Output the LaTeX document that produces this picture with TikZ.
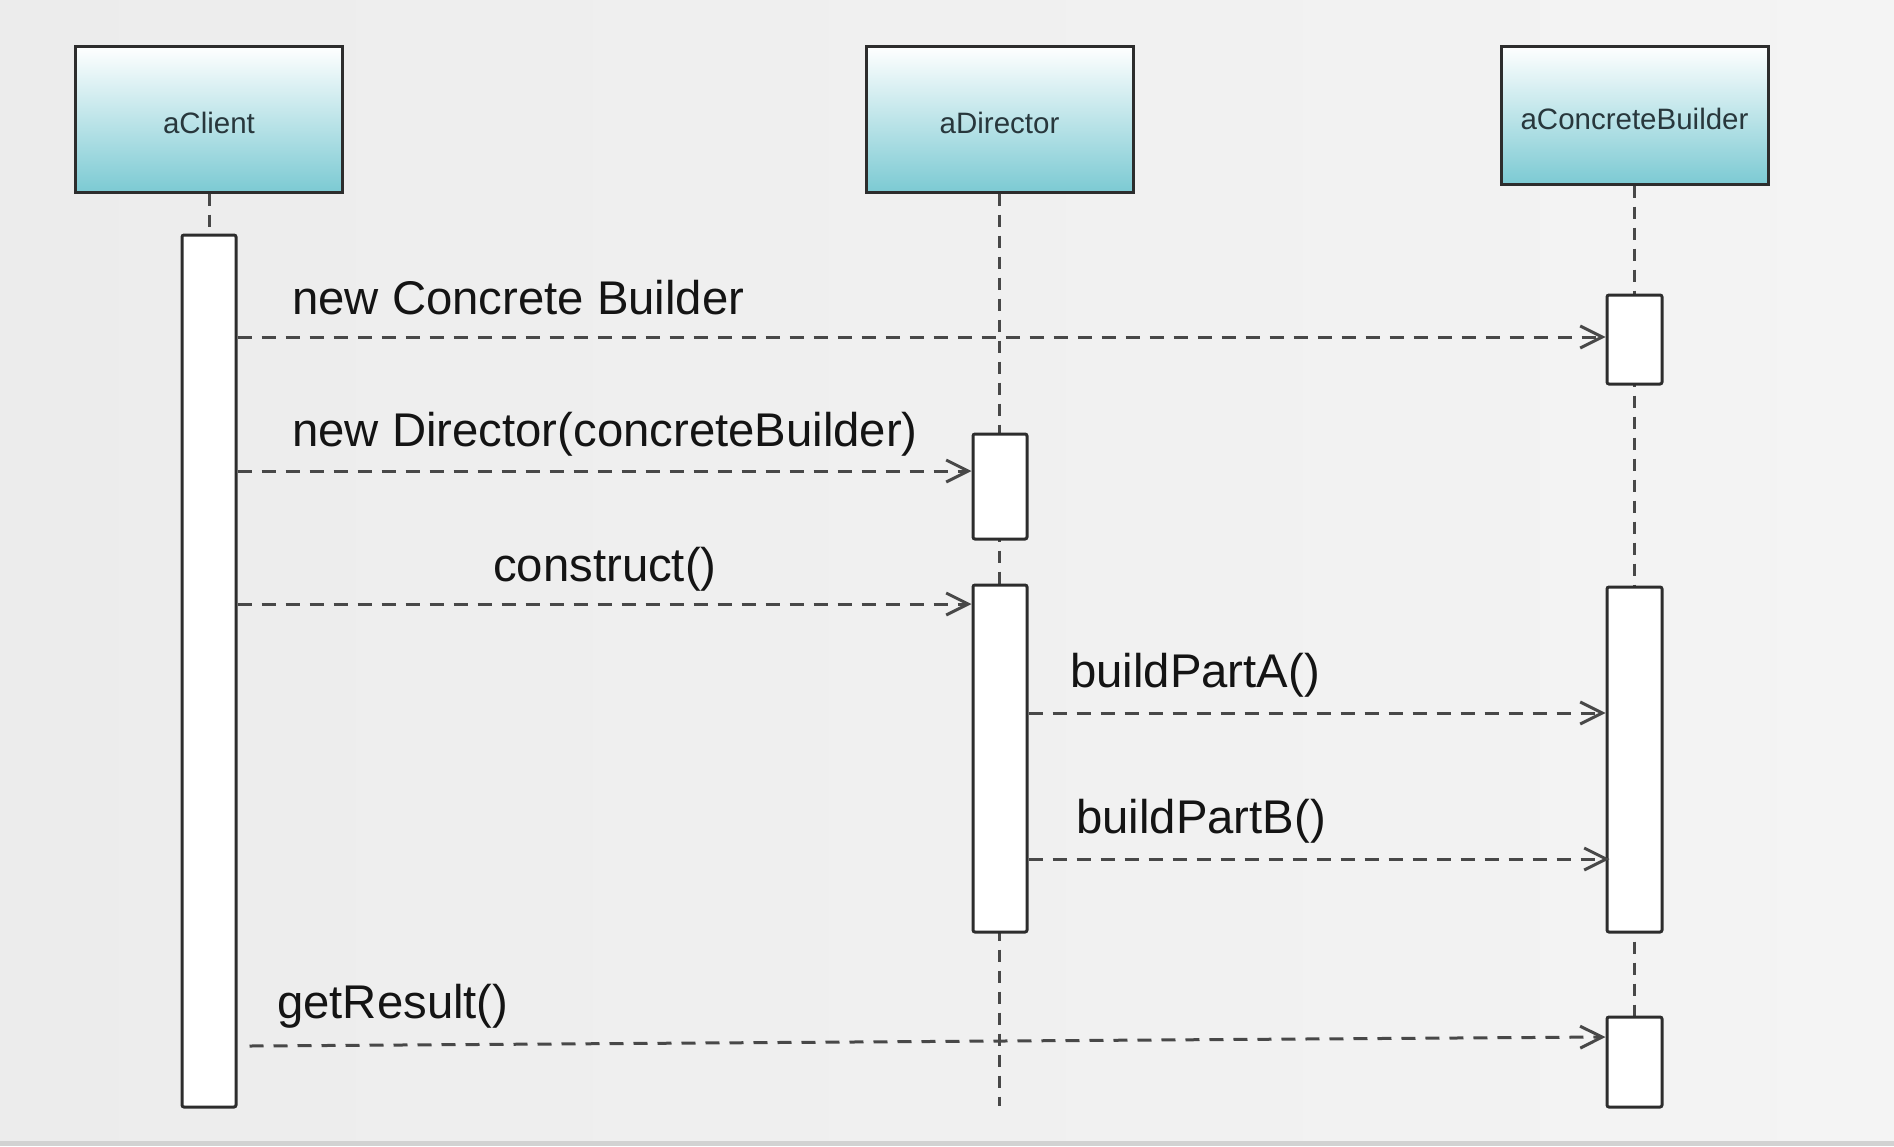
\documentclass[tikz,border=0pt]{standalone}
\usepackage{fontspec}
\setmainfont{Liberation Sans}
\usetikzlibrary{arrows.meta}
\definecolor{bgL}{RGB}{236,236,236}
\definecolor{bgM}{RGB}{252,252,252}
\definecolor{bgR}{RGB}{244,244,244}
\definecolor{teal1}{RGB}{124,202,211}
\definecolor{edge}{RGB}{45,45,45}
\definecolor{dashc}{RGB}{72,72,72}
\definecolor{txt}{RGB}{20,20,20}
\definecolor{htxt}{RGB}{40,55,60}
\newcommand{\hlabel}[1]{\raisebox{-14pt}[0pt][0pt]{#1}}
\tikzset{
  head/.style={draw=edge, line width=3pt, top color=white, bottom color=teal1,
    minimum width=267pt, inner sep=0pt, text=htxt,
    font=\fontsize{29.5}{35}\selectfont},
  actbox/.style={draw=edge, line width=3pt, fill=white, rounded corners=2pt,
    minimum width=54pt, inner sep=0pt},
  life/.style={draw=dashc, line width=3pt, dash pattern=on 12pt off 9pt},
  msg/.style={draw=dashc, line width=3pt, dash pattern=on 14pt off 10pt,
    -{Straight Barb[length=22pt,width=22pt,line width=3pt]}},
  lbl/.style={anchor=base west, inner sep=0pt, text=txt,
    font=\fontsize{47.3}{56}\selectfont}
}
\begin{document}
\begin{tikzpicture}[x=1pt,y=-1pt]
\useasboundingbox (0,0) rectangle (1894,1146);
\shade[left color=bgL, middle color=bgM, right color=bgR] (0,0) rectangle (1894,1141);
\fill[gray!35] (0,1141) rectangle (1894,1146);

% headers
\node[head, minimum height=146pt] (client) at (209,119) {\hlabel{aClient}};
\node[head, minimum height=146pt] (director) at (999.5,119) {\hlabel{aDirector}};
\node[head, minimum height=138pt] (builder) at (1634.5,115) {\hlabel{aConcreteBuilder}};

% lifeline end points
\coordinate (cend) at (209,235);
\coordinate (dend) at (999.5,1106);
\coordinate (bend) at (1634.5,1017);
\draw[life] (client.south) -- (cend);
\draw[life] (director.south) -- (dend);
\draw[life] (builder.south) -- (bend);

% activations
\node[actbox, minimum height=872pt] (ca) at (209,671) {};
\node[actbox, minimum height=105pt] (da1) at (1000,486.5) {};
\node[actbox, minimum height=347pt] (da2) at (1000,758.5) {};
\node[actbox, minimum width=55pt, minimum height=89pt] (ba1) at (1634.5,339.5) {};
\node[actbox, minimum width=55pt, minimum height=345pt] (ba2) at (1634.5,759.5) {};
\node[actbox, minimum width=55pt, minimum height=90pt] (ba3) at (1634.5,1062) {};

% messages
\draw[msg] (ca.east |- 0,337) -- (ba1.west |- 0,337);
\draw[msg] (ca.east |- 0,471) -- (da1.west |- 0,471);
\draw[msg] (ca.east |- 0,604) -- (da2.west |- 0,604);
\draw[msg] (da2.east |- 0,713) -- (ba2.west |- 0,713);
\draw[msg] (da2.east |- 0,859) -- ([xshift=4pt]ba2.west |- 0,859);
\coordinate (gs) at (ca.east |- 0,1046);
\draw[msg] ([xshift=12pt]gs) -- (ba3.west |- 0,1037);

% labels
\node[lbl] (l1) at (292,314) {new Concrete Builder};
\node[lbl] (l2) at (292,446) {new Director(concreteBuilder)};
\node[lbl] (l3) at (493,581) {construct()};
\node[lbl] (l4) at (1070,687) {buildPartA()};
\node[lbl] (l5) at (1076,833) {buildPartB()};
\node[lbl] (l6) at (277,1018) {getResult()};
\end{tikzpicture}
\end{document}
